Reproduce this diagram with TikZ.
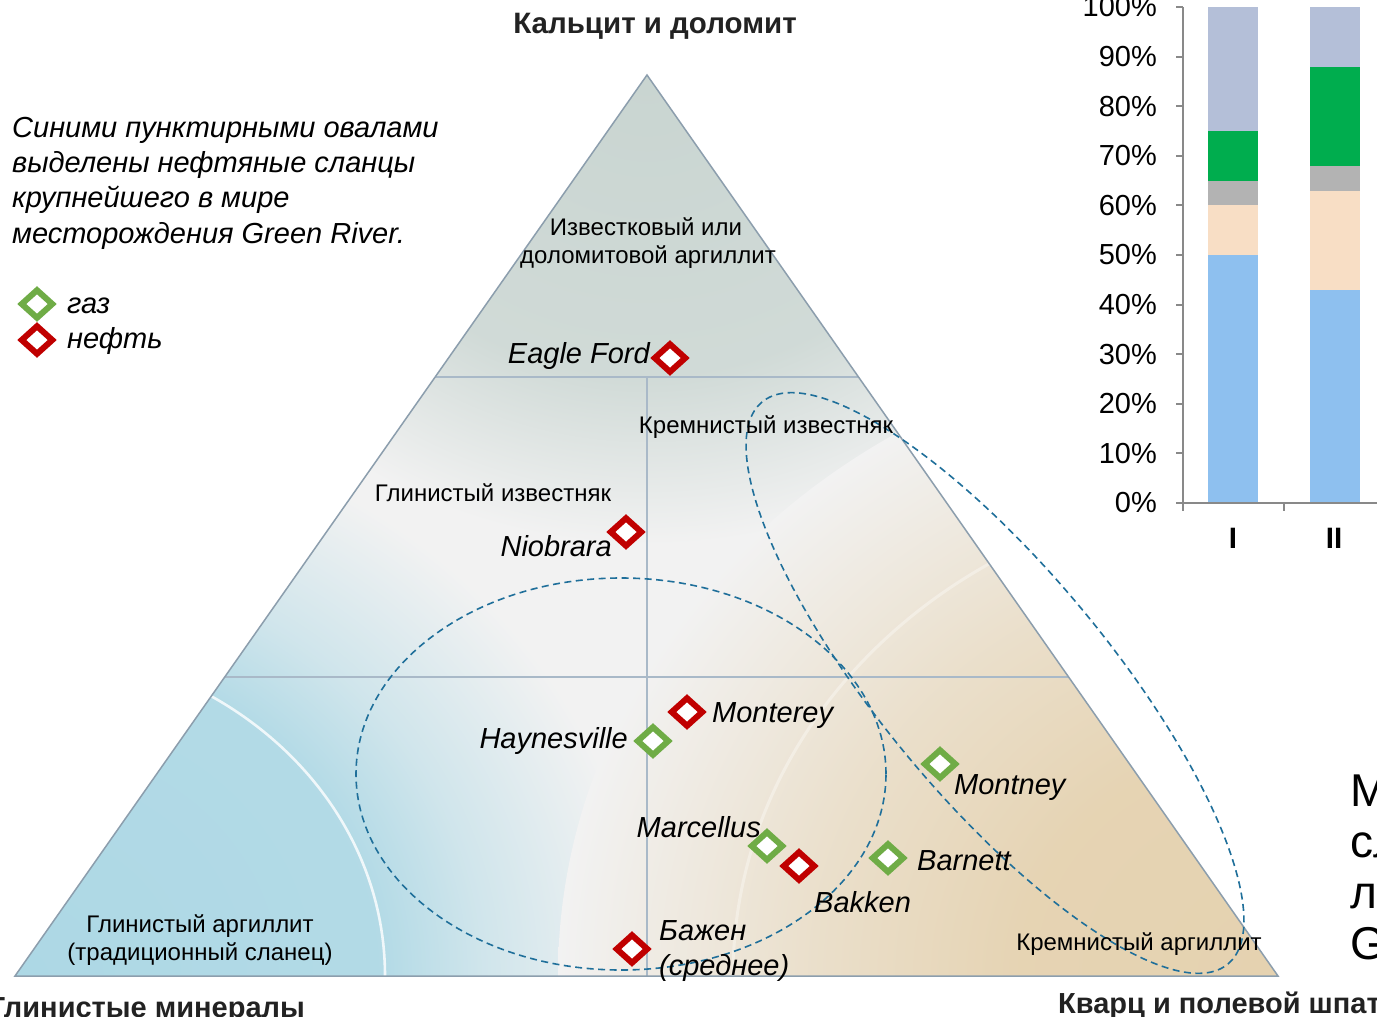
\documentclass[tikz,border=0pt]{standalone}
\usepackage{fontspec}
\setmainfont{Liberation Sans}
\usetikzlibrary{shapes.geometric}
\definecolor{bgc}{HTML}{F2F2F2}
\definecolor{apexc}{HTML}{C9D5D1}
\definecolor{bluec}{HTML}{ADD8E5}
\definecolor{tanc}{HTML}{E5D2B0}
\definecolor{edgec}{HTML}{8C9EAD}
\definecolor{gridc}{HTML}{A9B9C8}
\definecolor{ovalc}{HTML}{1F6F9A}
\definecolor{gasc}{HTML}{6FAC46}
\definecolor{oilc}{HTML}{C00000}
\definecolor{axc}{HTML}{898989}
\definecolor{barblue}{HTML}{8EC0EF}
\definecolor{barpeach}{HTML}{F8DEC5}
\definecolor{bargray}{HTML}{B3B3B3}
\definecolor{bargreen}{HTML}{00AD4E}
\definecolor{barlav}{HTML}{B4BFD8}
\definecolor{titc}{HTML}{222222}
\pgfdeclareradialshading{apexsh}{\pgfpoint{0bp}{0bp}}{color(0bp)=(apexc); color(16bp)=(apexc!82!bgc); color(25bp)=(bgc); color(50bp)=(bgc)}
\pgfdeclareradialshading{leftsh}{\pgfpoint{0bp}{0bp}}{color(0bp)=(bluec); color(14.5bp)=(bluec!92!bgc); color(18.5bp)=(bluec!50!bgc); color(25bp)=(bgc); color(50bp)=(bgc)}
\pgfdeclareradialshading{rightsh}{\pgfpoint{0bp}{0bp}}{color(0bp)=(tanc); color(9bp)=(tanc!95!bgc); color(16bp)=(tanc!60!bgc); color(25bp)=(bgc); color(50bp)=(bgc)}
\newcommand\myTit{\fontsize{29.5pt}{34pt}\selectfont\bfseries}
\newcommand\myBot{\fontsize{29pt}{34pt}\selectfont\bfseries}
\newcommand\myNote{\fontsize{29pt}{35pt}\selectfont\itshape}
\newcommand\myName{\fontsize{29pt}{34pt}\selectfont\itshape}
\newcommand\myReg{\fontsize{24pt}{28pt}\selectfont}
\newcommand\myAx{\fontsize{29pt}{32pt}\selectfont}
\newcommand\myBig{\fontsize{46pt}{51pt}\selectfont}
\tikzset{
  mk/.style={diamond, draw, line width=6pt, fill=white, minimum width=33pt, minimum height=30pt, inner sep=0pt},
  gasmk/.style={mk, draw=gasc},
  oilmk/.style={mk, draw=oilc},
  oval/.style={draw=ovalc, line width=1.6pt, dash pattern=on 7pt off 4.5pt},
  nm/.style={font=\myName, inner sep=0pt},
  reg/.style={font=\myReg, inner sep=0pt, anchor=base},
  tit/.style={font=\myTit, text=titc, inner sep=0pt},
  bot/.style={font=\myBot, text=titc, inner sep=0pt},
  tk/.style={font=\myAx, inner sep=0pt, anchor=east}
}
\begin{document}
\begin{tikzpicture}[x=1pt,y=-1pt]
\useasboundingbox (0,0) rectangle (1377,1017);
\clip (0,0) rectangle (1377,1017);
\fill[white] (0,0) rectangle (1377,1017);
\coordinate (A) at (647,75);
\coordinate (L) at (15,976);
\coordinate (R) at (1278,976);
% triangle background
\begin{scope}
\clip (A) -- (L) -- (R) -- cycle;
\fill[bgc] (0,0) rectangle (1377,1017);
\shade[shading=apexsh] (A) ellipse [x radius=520pt, y radius=470pt];
\shade[shading=leftsh] (L) ellipse [x radius=630pt, y radius=565pt];
\shade[shading=rightsh] (R) ellipse [x radius=720pt, y radius=640pt];
\draw[white, opacity=0.8, line width=2.6pt] (L) ellipse [x radius=370pt, y radius=330pt];
\draw[white, opacity=0.35, line width=3pt] (R) ellipse [x radius=545pt, y radius=486pt];
\draw[gridc, line width=1.5pt] (0,377) -- (1377,377) (0,677) -- (1377,677) (647,377) -- (647,976);
\end{scope}
\draw[edgec, line width=1.5pt] (A) -- (L) -- (R) -- cycle;
% ovals
\draw[oval] (621,774) ellipse [x radius=265pt, y radius=196pt];
\draw[oval, rotate around={-50.35:(995,683)}] (995,683) ellipse [x radius=365pt, y radius=114pt];
% region labels
\node[reg] (r1a) at (646,235) {Известковый или};
\node[reg] (r1b) at (648,263) {доломитовой аргиллит};
\node[reg] (r2) at (766,433) {Кремнистый известняк};
\node[reg] (r3) at (493,501) {Глинистый известняк};
\node[reg] (r4a) at (200,932) {Глинистый аргиллит};
\node[reg] (r4b) at (200,960) {(традиционный сланец)};
\node[reg] (r5) at (1139,950) {Кремнистый аргиллит};
% markers
\node[oilmk] (eagle) at (670,358) {};
\node[oilmk] (niob) at (626,532) {};
\node[oilmk] (mont) at (687,712) {};
\node[gasmk] (hayn) at (653,741) {};
\node[gasmk] (marc) at (767,846) {};
\node[oilmk] (bakk) at (799,866) {};
\node[gasmk] (barn) at (888,858) {};
\node[gasmk] (mtny) at (940,764) {};
\node[oilmk] (bazh) at (632,949) {};
% names
\node[nm, anchor=base east] (teagle) at (650,363) {Eagle Ford};
\node[nm, anchor=base east] (tniob) at (612,556) {Niobrara};
\node[nm, anchor=base west] (tmont) at (712,722) {Monterey};
\node[nm, anchor=base east] (thayn) at (628,748) {Haynesville};
\node[nm, anchor=base east] (tmarc) at (761,837) {Marcellus};
\node[nm, anchor=base west] (tbakk) at (814,912) {Bakken};
\node[nm, anchor=base west] (tbarn) at (917,870) {Barnett};
\node[nm, anchor=base west] (tmtny) at (954,794) {Montney};
\node[nm, anchor=base west] (tbazh) at (659,940) {Бажен};
\node[nm, anchor=base west] (tbazh2) at (659,975) {(среднее)};
% legend
\node[gasmk] (lg1) at (37,304) {};
\node[oilmk] (lg2) at (37,340) {};
\node[nm, anchor=base west] (lgt1) at (67,313) {газ};
\node[nm, anchor=base west] (lgt2) at (67,348) {нефть};
% note
\node[font=\myNote, inner sep=0pt, anchor=base west] (n1) at (12,137) {Синими пунктирными овалами};
\node[font=\myNote, inner sep=0pt, anchor=base west] (n2) at (12,172) {выделены нефтяные сланцы};
\node[font=\myNote, inner sep=0pt, anchor=base west] (n3) at (12,207) {крупнейшего в мире};
\node[font=\myNote, inner sep=0pt, anchor=base west] (n4) at (12,243) {месторождения Green River.};
% vertex titles
\node[tit, anchor=base] (tA) at (655,34) {Кальцит и доломит};
\node[bot, anchor=base east] (tL) at (305,1017) {Глинистые минералы};
\node[bot, anchor=base west] (tR) at (1058,1013) {Кварц и полевой шпат};
% right partial text
\node[font=\myBig, inner sep=0pt, anchor=base west] (p1) at (1350,806) {М};
\node[font=\myBig, inner sep=0pt, anchor=base west] (p2) at (1350,857) {сл};
\node[font=\myBig, inner sep=0pt, anchor=base west] (p3) at (1350,908) {ли};
\node[font=\myBig, inner sep=0pt, anchor=base west] (p4) at (1350,959) {G};
% bar chart
\fill[barblue] (1208,503) rectangle (1258,255);
\fill[barpeach] (1208,255) rectangle (1258,205.4);
\fill[bargray] (1208,205.4) rectangle (1258,180.6);
\fill[bargreen] (1208,180.6) rectangle (1258,131);
\fill[barlav] (1208,131) rectangle (1258,7);
\fill[barblue] (1310,503) rectangle (1360,289.7);
\fill[barpeach] (1310,289.7) rectangle (1360,190.5);
\fill[bargray] (1310,190.5) rectangle (1360,165.7);
\fill[bargreen] (1310,165.7) rectangle (1360,66.5);
\fill[barlav] (1310,66.5) rectangle (1360,7);
\draw[axc, line width=2pt] (1183,7) -- (1183,511);
\draw[axc, line width=2pt] (1183,503) -- (1377,503);
\draw[axc, line width=2pt] (1284,503) -- (1284,511);
\foreach \p in {0,10,...,100} {
  \draw[axc, line width=2pt] (1176,{503-4.96*\p}) -- (1183,{503-4.96*\p});
  \node[tk] (tk\p) at (1157,{503-4.96*\p}) {\p\%};
}
\node[tit, text=black] (bI) at (1233,538) {I};
\node[tit, text=black] (bII) at (1334,538) {II};
\end{tikzpicture}
\end{document}
